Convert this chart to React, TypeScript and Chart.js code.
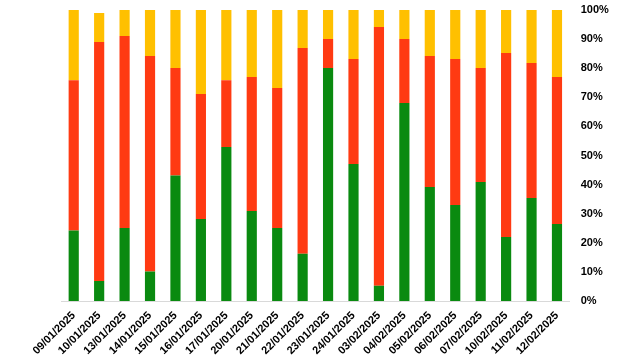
import React, { useEffect, useRef } from "react";
import { Chart, registerables } from "chart.js";

Chart.register(...registerables);

const categories = [
  "09/01/2025", "10/01/2025", "13/01/2025", "14/01/2025", "15/01/2025",
  "16/01/2025", "17/01/2025", "20/01/2025", "21/01/2025", "22/01/2025",
  "23/01/2025", "24/01/2025", "03/02/2025", "04/02/2025", "05/02/2025",
  "06/02/2025", "07/02/2025", "10/02/2025", "11/02/2025", "12/02/2025",
];
const greenValues = [24.2, 6.9, 25.1, 10.1, 43.1, 28.2, 52.9, 30.9, 25.1, 16.2, 80.1, 47.1, 5.2, 68, 39.2, 33, 40.9, 22, 35.4, 26.5];
const redValues = [51.7, 82.1, 66, 74.1, 37, 42.9, 23, 46.1, 48.1, 70.7, 9.9, 36.1, 89, 22, 45, 50.2, 39.2, 63.2, 46.4, 50.5];
const yellowValues = [24.1, 10, 8.9, 15.8, 19.9, 29.2, 24.1, 23, 26.8, 13.1, 10, 16.8, 5.8, 10, 15.8, 16.8, 19.9, 14.8, 18.2, 23];

export default function App() {
  const ref = useRef<HTMLCanvasElement>(null);
  useEffect(() => {
    document.body.style.margin = "0";
    const font = { family: "'Liberation Sans', Arial, sans-serif", size: 11, weight: "bold" as const };
    const chart = new Chart(ref.current!, {
      type: "bar",
      data: {
        labels: categories,
        datasets: [
          { label: "Green", data: greenValues, backgroundColor: "#0a8a10" },
          { label: "Red", data: redValues, backgroundColor: "#ff3a12" },
          { label: "Yellow", data: yellowValues, backgroundColor: "#ffc000" },
        ],
      },
      options: {
        animation: false,
        responsive: false,
        maintainAspectRatio: false,
        datasets: { bar: { categoryPercentage: 1, barPercentage: 0.4 } },
        layout: { padding: { left: 61, top: 10, right: 0, bottom: 0 } },
        plugins: { legend: { display: false }, tooltip: { enabled: false } },
        scales: {
          x: {
            stacked: true,
            grid: { display: false, drawTicks: false },
            border: { display: true, color: "#d9d9d9", width: 1 },
            ticks: { color: "#000", font, minRotation: 45, maxRotation: 45, padding: 8, autoSkip: false },
            afterFit: (s: any) => { s.height = 60; },
          },
          y: {
            stacked: true,
            position: "right",
            min: 0,
            max: 100,
            grid: { display: false, drawTicks: false },
            border: { display: false },
            ticks: { color: "#000", font, stepSize: 10, padding: 11, callback: (v: any) => v + "%" },
            afterFit: (s: any) => { s.width = 70.3; s.paddingTop = 0; s.paddingBottom = 0; },
          },
        },
      },
    });
    return () => chart.destroy();
  }, []);
  return (
    <div style={{ width: 640, height: 361 }}>
      <canvas ref={ref} width={640} height={361} style={{ display: "block" }} />
    </div>
  );
}
